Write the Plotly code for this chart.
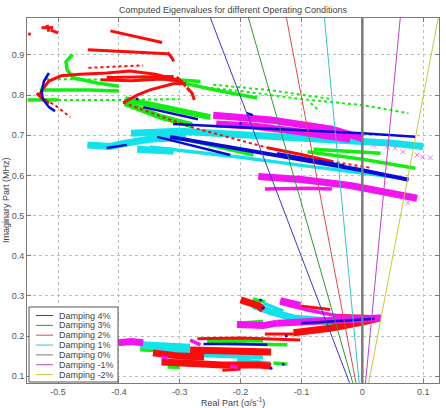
import math
import plotly.graph_objects as go

# ---------------- data ----------------
damping_pct = [4, 3, 2, 1, 0, -1, -2]
damping_labels = ["Damping 4%", "Damping 3%", "Damping 2%", "Damping 1%",
                  "Damping 0%", "Damping -1%", "Damping -2%"]
damping_imag_span = [0.0, 1.05]

x_tick_vals = [-0.5, -0.4, -0.3, -0.2, -0.1, 0.0, 0.1]
x_tick_text = ["-0.5", "-0.4", "-0.3", "-0.2", "-0.1", "0", "0.1"]
y_tick_vals = [0.1, 0.2, 0.3, 0.4, 0.5, 0.6, 0.7, 0.8, 0.9]
y_tick_text = ["0.1", "0.2", "0.3", "0.4", "0.5", "0.6", "0.7", "0.8", "0.9"]

# eigenvalue traces (real, imag)
red_bands = [
    [(-0.344, 0.158), (-0.30, 0.150), (-0.26, 0.148)],
    [(-0.33, 0.135), (-0.28, 0.130), (-0.23, 0.128), (-0.17, 0.128), (-0.15, 0.125)],
    [(-0.283, 0.165), (-0.22, 0.162), (-0.15, 0.160)],
    [(-0.20, 0.290), (-0.17, 0.275), (-0.163, 0.265)],
    [(-0.113, 0.208), (-0.05, 0.220), (0.0, 0.235), (0.03, 0.245)],
]
red_streaks = [
    [(-0.43, 0.838), (-0.38, 0.836), (-0.33, 0.840), (-0.30, 0.836)],
    [(-0.42, 0.844), (-0.36, 0.845), (-0.31, 0.846)],
    [(-0.305, 0.845), (-0.29, 0.822)],
    [(-0.414, 0.960), (-0.329, 0.931)],
    [(-0.451, 0.913), (-0.40, 0.909), (-0.35, 0.906), (-0.320, 0.903)],
    [(-0.320, 0.906), (-0.313, 0.893), (-0.310, 0.884)],
    [(-0.527, 0.968), (-0.508, 0.968)],
    [(-0.518, 0.975), (-0.515, 0.958)],
    [(-0.512, 0.962), (-0.500, 0.955)],
    [(-0.532, 0.796), (-0.525, 0.815), (-0.515, 0.835), (-0.495, 0.848), (-0.464, 0.852),
     (-0.42, 0.855), (-0.382, 0.860), (-0.34, 0.852), (-0.31, 0.840), (-0.295, 0.833)],
    [(-0.393, 0.781), (-0.37, 0.800), (-0.349, 0.813), (-0.311, 0.828), (-0.29, 0.829)],
    [(-0.288, 0.818), (-0.28, 0.805), (-0.276, 0.788)],
    [(-0.535, 0.805), (-0.525, 0.790), (-0.515, 0.780)],
    [(-0.156, 0.669), (-0.10, 0.652), (-0.048, 0.634)],
    [(-0.271, 0.193), (-0.20, 0.195), (-0.102, 0.190)],
    [(-0.102, 0.275), (-0.053, 0.266)],
    [(-0.048, 0.252), (0.0, 0.250), (0.03, 0.248)],
    [(-0.23, 0.115), (-0.20, 0.118)],
    [(-0.16, 0.205), (-0.11, 0.205)],
    [(-0.549, 0.953), (-0.545, 0.951)],
]
red_trails = [
    [(-0.530, 0.795), (-0.505, 0.775), (-0.48, 0.745)],
    [(-0.393, 0.781), (-0.283, 0.721), (-0.156, 0.669), (-0.048, 0.634), (0.013, 0.619)],
    [(-0.45, 0.868), (-0.40, 0.872), (-0.36, 0.874)],
]

green_bands = [
    [(-0.39, 0.790), (-0.33, 0.770), (-0.28, 0.752), (-0.25, 0.745)],
    [(-0.39, 0.780), (-0.33, 0.745), (-0.28, 0.725)],
]
green_streaks = [
    [(-0.476, 0.901), (-0.487, 0.883), (-0.485, 0.863), (-0.475, 0.843), (-0.436, 0.830), (-0.40, 0.822)],
    [(-0.365, 0.845), (-0.30, 0.838), (-0.266, 0.834)],
    [(-0.316, 0.838), (-0.25, 0.815), (-0.173, 0.793)],
    [(-0.32, 0.700), (-0.25, 0.676), (-0.179, 0.651)],
    [(-0.09, 0.659), (0.0, 0.640), (0.087, 0.618)],
    [(-0.08, 0.665), (-0.02, 0.660), (0.03, 0.655)],
    [(-0.55, 0.788), (-0.50, 0.788)],
    [(-0.53, 0.813), (-0.45, 0.813), (-0.40, 0.810)],
    [(-0.365, 0.166), (-0.32, 0.162)],
    [(-0.255, 0.183), (-0.20, 0.180), (-0.123, 0.178)],
    [(-0.255, 0.190), (-0.163, 0.188)],
    [(-0.18, 0.292), (-0.16, 0.285)],
    [(-0.113, 0.236), (-0.05, 0.232), (0.0, 0.238), (0.025, 0.243)],
    [(-0.146, 0.133), (-0.123, 0.130)],
    [(-0.32, 0.123), (-0.30, 0.122)],
    [(-0.206, 0.232), (-0.163, 0.236)],
]
green_trails = [
    [(-0.50, 0.788), (-0.40, 0.788), (-0.30, 0.790)],
    [(-0.52, 0.840), (-0.40, 0.838)],
    [(-0.288, 0.824), (-0.20, 0.810), (-0.10, 0.790), (0.0, 0.775), (0.0757, 0.755)],
    [(-0.245, 0.826), (-0.15, 0.812), (-0.05, 0.790)],
    [(-0.085, 0.780), (-0.07, 0.760)],
]

blue_bands = [
    [(-0.316, 0.696), (-0.20, 0.665), (-0.10, 0.640), (0.0, 0.613), (0.076, 0.589)],
]
blue_streaks = [
    [(-0.515, 0.855), (-0.523, 0.835), (-0.527, 0.810), (-0.525, 0.790), (-0.515, 0.770), (-0.505, 0.760)],
    [(-0.311, 0.728), (-0.20, 0.720), (-0.10, 0.712), (0.0, 0.705), (0.087, 0.696)],
    [(-0.36, 0.770), (-0.30, 0.750), (-0.27, 0.740)],
    [(-0.337, 0.696), (-0.28, 0.675), (-0.217, 0.651)],
    [(-0.42, 0.668), (-0.387, 0.676)],
    [(-0.19, 0.755), (-0.18, 0.750)],
    [(-0.14, 0.655), (-0.03, 0.625)],
    [(-0.261, 0.180), (-0.20, 0.180), (-0.156, 0.178)],
    [(-0.10, 0.232), (-0.03, 0.238), (0.02, 0.243)],
]
blue_dots_real = [-0.167, -0.163, -0.15, -0.13, -0.125, 0.07, -0.37, -0.2]
blue_dots_imag = [0.290, 0.270, 0.120, 0.130, 0.200, 0.590, 0.79, 0.73]

cyan_bands = [
    [(-0.452, 0.676), (-0.414, 0.672), (-0.39, 0.680), (-0.35, 0.690), (-0.29, 0.695)],
    [(-0.38, 0.705), (-0.30, 0.710)],
    [(-0.37, 0.665), (-0.31, 0.660)],
    [(-0.30, 0.710), (-0.18, 0.700), (-0.05, 0.690), (0.05, 0.680), (0.10, 0.672)],
    [(-0.365, 0.178), (-0.33, 0.176), (-0.283, 0.172)],
    [(-0.34, 0.160), (-0.283, 0.158), (-0.22, 0.155), (-0.163, 0.150)],
    [(-0.206, 0.137), (-0.151, 0.128)],
    [(-0.179, 0.276), (-0.15, 0.260), (-0.113, 0.245), (-0.06, 0.238), (0.0, 0.240)],
]
cyan_streaks = [
    [(-0.349, 0.671), (-0.20, 0.645), (-0.10, 0.625), (0.0, 0.605), (0.062, 0.594)],
    [(-0.163, 0.282), (-0.13, 0.262)],
]

magenta_bands = [
    [(-0.245, 0.750), (-0.15, 0.738), (-0.05, 0.715), (0.0, 0.692)],
    [(-0.24, 0.728), (-0.18, 0.723), (-0.10, 0.708), (-0.02, 0.690)],
    [(-0.171, 0.597), (-0.10, 0.590), (-0.02, 0.575), (0.05, 0.553), (0.09, 0.543)],
    [(-0.401, 0.183), (-0.38, 0.186), (-0.36, 0.183)],
    [(-0.206, 0.229), (-0.163, 0.226), (-0.14, 0.232)],
    [(-0.14, 0.232), (-0.05, 0.238), (0.03, 0.245)],
    [(-0.135, 0.288), (-0.115, 0.283), (-0.102, 0.276)],
]
magenta_streaks = [
    [(-0.16, 0.566), (-0.09, 0.568), (-0.05, 0.566)],
    [(-0.283, 0.190), (-0.266, 0.178)],
    [(-0.33, 0.148), (-0.32, 0.145)],
    [(-0.135, 0.282), (-0.09, 0.265), (-0.04, 0.250), (0.02, 0.245)],
    [(-0.217, 0.125), (-0.205, 0.122)],
]
magenta_x_real = [0.018, 0.041, 0.054, 0.067, 0.090, 0.099, 0.112, 0.075]
magenta_x_imag = [0.676, 0.671, 0.668, 0.659, 0.651, 0.646, 0.644, 0.532]

# ---------------- styles ----------------
C_RED, C_GREEN, C_BLUE, C_CYAN, C_MAG = "#ff0a0a", "#12ee12", "#0a0ad8", "#12e2ea", "#f214f2"
damping_colors = ["#3838c8", "#2e9a2e", "#e04848", "#30c8c8", "#7a7a7a", "#c040c8", "#c8c838"]
damping_widths = [1, 1, 1, 1, 2.5, 1, 1]
FONT = "Liberation Sans, Arial, sans-serif"
PL, PR, PT, PB = 27, 439, 18, 383


def join(polys):
    xs, ys = [], []
    for p in polys:
        for x, y in p:
            xs.append(x)
            ys.append(y)
        xs.append(None)
        ys.append(None)
    return xs, ys


def add_group(fig, polys, color, width, dash="solid"):
    xs, ys = join(polys)
    fig.add_trace(go.Scatter(x=xs, y=ys, mode="lines", showlegend=False, hoverinfo="skip",
                             line=dict(color=color, width=width, dash=dash)))


fig = go.Figure()

for polys, col, w, d in [
    (green_bands, C_GREEN, 6, "solid"), (green_streaks, C_GREEN, 3.5, "solid"),
    (green_trails, C_GREEN, 2, "dot"),
    (cyan_bands, C_CYAN, 7, "solid"), (cyan_streaks, C_CYAN, 3.5, "solid"),
    (red_bands, C_RED, 7, "solid"), (red_streaks, C_RED, 3, "solid"),
    (red_trails, C_RED, 2, "dot"),
    (magenta_bands, C_MAG, 7, "solid"), (magenta_streaks, C_MAG, 3.5, "solid"),
    (blue_bands, C_BLUE, 4, "solid"), (blue_streaks, C_BLUE, 2.5, "solid"),
]:
    add_group(fig, polys, col, w, d)

fig.add_trace(go.Scatter(x=blue_dots_real, y=blue_dots_imag, mode="markers", showlegend=False,
                         hoverinfo="skip", marker=dict(color=C_BLUE, size=3)))
fig.add_trace(go.Scatter(x=magenta_x_real, y=magenta_x_imag, mode="markers", showlegend=False,
                         hoverinfo="skip",
                         marker=dict(color="#f070f0", size=5, symbol="x-thin",
                                     line=dict(color="#f070f0", width=1))))

# damping ratio lines: real = -2*pi*zeta/sqrt(1-zeta^2) * imag(Hz)
for pct, col, w in zip(damping_pct, damping_colors, damping_widths):
    z = pct / 100.0
    k = -2 * math.pi * z / math.sqrt(1 - z * z)
    ys = damping_imag_span
    xs = [k * y for y in ys]
    fig.add_trace(go.Scatter(x=xs, y=ys, mode="lines", showlegend=False, hoverinfo="skip",
                             line=dict(color=col, width=w)))

axis_common = dict(showgrid=True, gridcolor="#bdbdbd", griddash="dot", gridwidth=1,
                   showline=True, linecolor="#7a7a7a", linewidth=1, mirror="ticks",
                   ticks="inside", ticklen=4, tickcolor="#7a7a7a", zeroline=False,
                   tickfont=dict(family=FONT, size=9, color="#555555"), automargin=False)

fig.update_layout(
    width=446, height=408,
    margin=dict(l=PL, r=446 - PR, t=PT, b=408 - PB),
    paper_bgcolor="white", plot_bgcolor="white",
    xaxis=dict(range=[-0.551, 0.126], tickmode="array", tickvals=x_tick_vals,
               ticktext=x_tick_text, **axis_common),
    yaxis=dict(range=[0.083, 0.992], tickmode="array", tickvals=y_tick_vals,
               ticktext=y_tick_text, **axis_common),
)


def paper(px, py):
    return (px - PL) / (PR - PL), (PB - py) / (PB - PT)


annotations = []
tx, ty = paper(233, 10)
annotations.append(dict(x=tx, y=ty, xref="paper", yref="paper", showarrow=False,
                        xanchor="center", yanchor="middle",
                        text="Computed Eigenvalues for different Operating Conditions",
                        font=dict(family=FONT, size=9, color="#444444")))
tx, ty = paper(233, 402)
annotations.append(dict(x=tx, y=ty, xref="paper", yref="paper", showarrow=False,
                        xanchor="center", yanchor="middle",
                        text="Real Part (σ/s<sup>-1</sup>)",
                        font=dict(family=FONT, size=9, color="#444444")))
tx, ty = paper(6, 200)
annotations.append(dict(x=tx, y=ty, xref="paper", yref="paper", showarrow=False,
                        xanchor="center", yanchor="middle",
                        textangle=-90, text="Imaginary Part (MHz)",
                        font=dict(family=FONT, size=9, color="#444444")))

shapes = []
bx0, by0 = paper(29, 382)
bx1, by1 = paper(118, 307)
shapes.append(dict(type="rect", xref="paper", yref="paper", x0=bx0, y0=by0, x1=bx1, y1=by1,
                   line=dict(color="#555555", width=1), fillcolor="white", layer="above"))
for i, (lab, col) in enumerate(zip(damping_labels, damping_colors)):
    py = 315.5 + i * 9.85
    lx0, ly = paper(36, py)
    lx1, _ = paper(53, py)
    shapes.append(dict(type="line", xref="paper", yref="paper", x0=lx0, y0=ly, x1=lx1, y1=ly,
                       line=dict(color=col, width=1), layer="above"))
    ax, _ = paper(57, py)
    annotations.append(dict(x=ax, y=ly, xref="paper", yref="paper", showarrow=False,
                            xanchor="left", yanchor="middle", text=lab,
                            font=dict(family=FONT, size=9, color="#444444")))

fig.update_layout(annotations=annotations, shapes=shapes)
fig.write_html("out.html")
